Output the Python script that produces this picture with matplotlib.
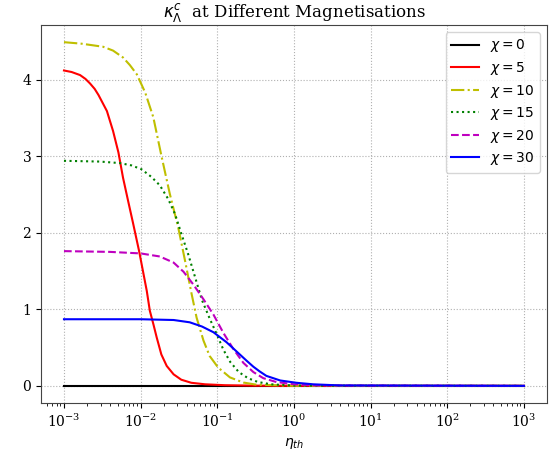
import numpy as np
import matplotlib
matplotlib.use("Agg")
import matplotlib.pyplot as plt
from matplotlib.ticker import NullFormatter

# kappa^c_Lambda vs eta_th for several magnetisations
chi_values = [0, 5, 10, 15, 20, 30]

log_eta_0 = [-3.0, 3.0]
kappa_0 = [0.0, 0.0]

log_eta_5 = [-3.0, -2.9, -2.79, -2.72, -2.66, -2.60, -2.55, -2.44, -2.36, -2.29, -2.23,
             -2.16, -2.10, -2.02, -1.92, -1.88, -1.835, -1.79, -1.73, -1.66, -1.57,
             -1.47, -1.34, -1.16, -0.9, -0.5, 0.0, 3.0]
kappa_5 = [4.12, 4.10, 4.06, 4.01, 3.95, 3.88, 3.80, 3.59, 3.33, 3.05, 2.72,
           2.40, 2.13, 1.76, 1.24, 0.98, 0.81, 0.63, 0.41, 0.26, 0.15,
           0.08, 0.04, 0.02, 0.008, 0.002, 0.0, 0.0]

log_eta_10 = [-3.0, -2.77, -2.49, -2.36, -2.23, -2.14, -2.05, -1.99, -1.94, -1.835,
              -1.73, -1.62, -1.51, -1.42, -1.335, -1.27, -1.18, -1.10, -0.99,
              -0.835, -0.66, -0.49, 0.0, 3.0]
kappa_10 = [4.49, 4.47, 4.43, 4.38, 4.29, 4.19, 4.07, 3.94, 3.83, 3.51,
            3.01, 2.51, 2.07, 1.63, 1.20, 0.89, 0.59, 0.39, 0.24,
            0.11, 0.043, 0.015, 0.001, 0.0]

log_eta_15 = [-3.0, -2.53, -2.27, -2.12, -1.99, -1.86, -1.75, -1.64, -1.55, -1.47,
              -1.38, -1.29, -1.20, -1.10, -1.01, -0.92, -0.83, -0.72, -0.60,
              -0.47, -0.3, 0.0, 3.0]
kappa_15 = [2.94, 2.93, 2.91, 2.88, 2.83, 2.73, 2.62, 2.44, 2.24, 1.99,
            1.72, 1.42, 1.12, 0.88, 0.68, 0.47, 0.31, 0.18, 0.10,
            0.05, 0.02, 0.003, 0.0]

log_eta_20 = [-3.0, -2.4, -2.0, -1.75, -1.57, -1.44, -1.31, -1.18, -1.05, -0.92,
              -0.79, -0.66, -0.53, -0.40, -0.23, 0.0, 0.3, 3.0]
kappa_20 = [1.76, 1.75, 1.73, 1.69, 1.61, 1.49, 1.32, 1.13, 0.93, 0.69,
            0.48, 0.30, 0.18, 0.10, 0.05, 0.02, 0.005, 0.0]

log_eta_30 = [-3.0, -2.0, -1.57, -1.36, -1.20, -1.05, -0.88, -0.75, -0.62, -0.53,
              -0.45, -0.36, -0.18, 0.03, 0.25, 0.6, 3.0]
kappa_30 = [0.87, 0.87, 0.86, 0.83, 0.775, 0.70, 0.57, 0.45, 0.33, 0.25,
            0.19, 0.13, 0.07, 0.04, 0.02, 0.005, 0.0]

series = [
    (log_eta_0, kappa_0, 'k', '-'),
    (log_eta_5, kappa_5, 'r', '-'),
    (log_eta_10, kappa_10, 'y', '-.'),
    (log_eta_15, kappa_15, 'g', ':'),
    (log_eta_20, kappa_20, 'm', '--'),
    (log_eta_30, kappa_30, 'b', '-'),
]

plt.rcParams['font.family'] = 'serif'

fig = plt.figure(figsize=(5.59, 4.51), dpi=100)
ax = fig.add_axes([0.0733, 0.1064, 0.9052, 0.8382])

for chi, (le, k, c, ls) in zip(chi_values, series):
    ax.plot(np.power(10.0, le), k, color=c, linestyle=ls, linewidth=1.5,
            label=r'$\chi = %d$' % chi)

ax.set_xscale('log')
ax.xaxis.set_minor_formatter(NullFormatter())
ax.set_yticks([0, 1, 2, 3, 4])
ax.grid(True, linestyle=':', color='#b0b0b0', linewidth=0.8)
ax.set_xlabel(r'$\eta_{th}$')
ax.set_title(r'$\kappa^c_\Lambda$  at Different Magnetisations', fontsize=12)
ax.legend(loc='upper right', labelspacing=0.4)
for s in ax.spines.values():
    s.set_color('#444444')

fig.savefig('out.png', dpi=100)
